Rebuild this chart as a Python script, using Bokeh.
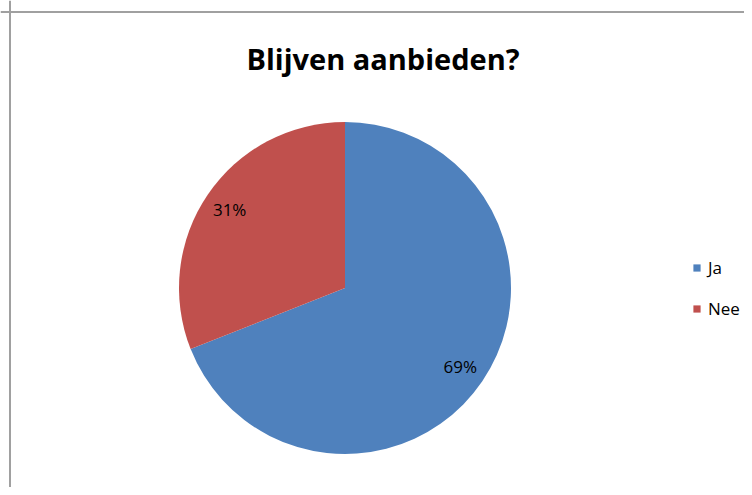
import math
from bokeh.plotting import figure
from bokeh.models import Range1d, Span, ColumnDataSource, Legend, LegendItem
from bokeh.core.properties import value
from bokeh.embed import file_html
from bokeh.resources import INLINE

# ---- data ----
categories = ["Ja", "Nee"]
percentages = [69, 31]
colors = ["#4F81BD", "#C0504D"]
title_text = "Blijven aanbieden?"

W, H = 744, 487
p = figure(width=W, height=H, output_backend="svg", toolbar_location=None,
           x_range=Range1d(0, W), y_range=Range1d(0, H),
           min_border=0, outline_line_color=None)
p.axis.visible = False
p.grid.visible = False
p.background_fill_color = "white"
p.border_fill_color = "white"

# chart frame border (left and top visible)
p.add_layout(Span(location=9.5, dimension="height", line_color="#a0a0a0", line_width=2))
p.add_layout(Span(location=H - 11.5, dimension="width", line_color="#a0a0a0", line_width=2))

cx, cy, R = 344.5, H - 287.5, 166
total = sum(percentages)
starts, ends, lx, ly, labels = [], [], [], [], []
acc = 0.0
for v in percentages:
    a0 = math.pi / 2 - 2 * math.pi * acc / total
    a1 = math.pi / 2 - 2 * math.pi * (acc + v) / total
    starts.append(a0)
    ends.append(a1)
    mid = (a0 + a1) / 2
    lx.append(cx + 0.84 * R * math.cos(mid))
    ly.append(cy + 0.84 * R * math.sin(mid))
    labels.append(f"{round(100 * v / total)}%")
    acc += v

src = ColumnDataSource(dict(cat=categories, start=starts, end=ends, color=colors,
                            lx=lx, ly=ly, lab=labels))
wr = p.wedge(x=cx, y=cy, radius=R, radius_units="screen", start_angle="start",
             end_angle="end", direction="clock", fill_color="color",
             line_color=None, source=src)

p.text(x="lx", y="ly", text="lab", source=src, text_align="center",
       text_baseline="middle", text_font=value("Open Sans"),
       text_font_size="17px", text_color="#000000")

p.text(x=[382.5], y=[H - 58], text=[title_text], text_align="center",
       text_baseline="alphabetic", text_font=value("Open Sans"),
       text_font_style="bold", text_font_size="29px", text_color="#000000")

legend = Legend(items=[LegendItem(label=c, renderers=[wr], index=i)
                       for i, c in enumerate(categories)],
                location=(692, 167), orientation="vertical",
                glyph_width=9, glyph_height=9, label_height=20,
                label_standoff=7, spacing=18, padding=0, margin=0,
                border_line_color=None, background_fill_alpha=0,
                label_text_font="Open Sans", label_text_font_size="17px",
                label_text_color="#000000")
p.add_layout(legend, "center")

open("out.html", "w").write(file_html(p, INLINE))
